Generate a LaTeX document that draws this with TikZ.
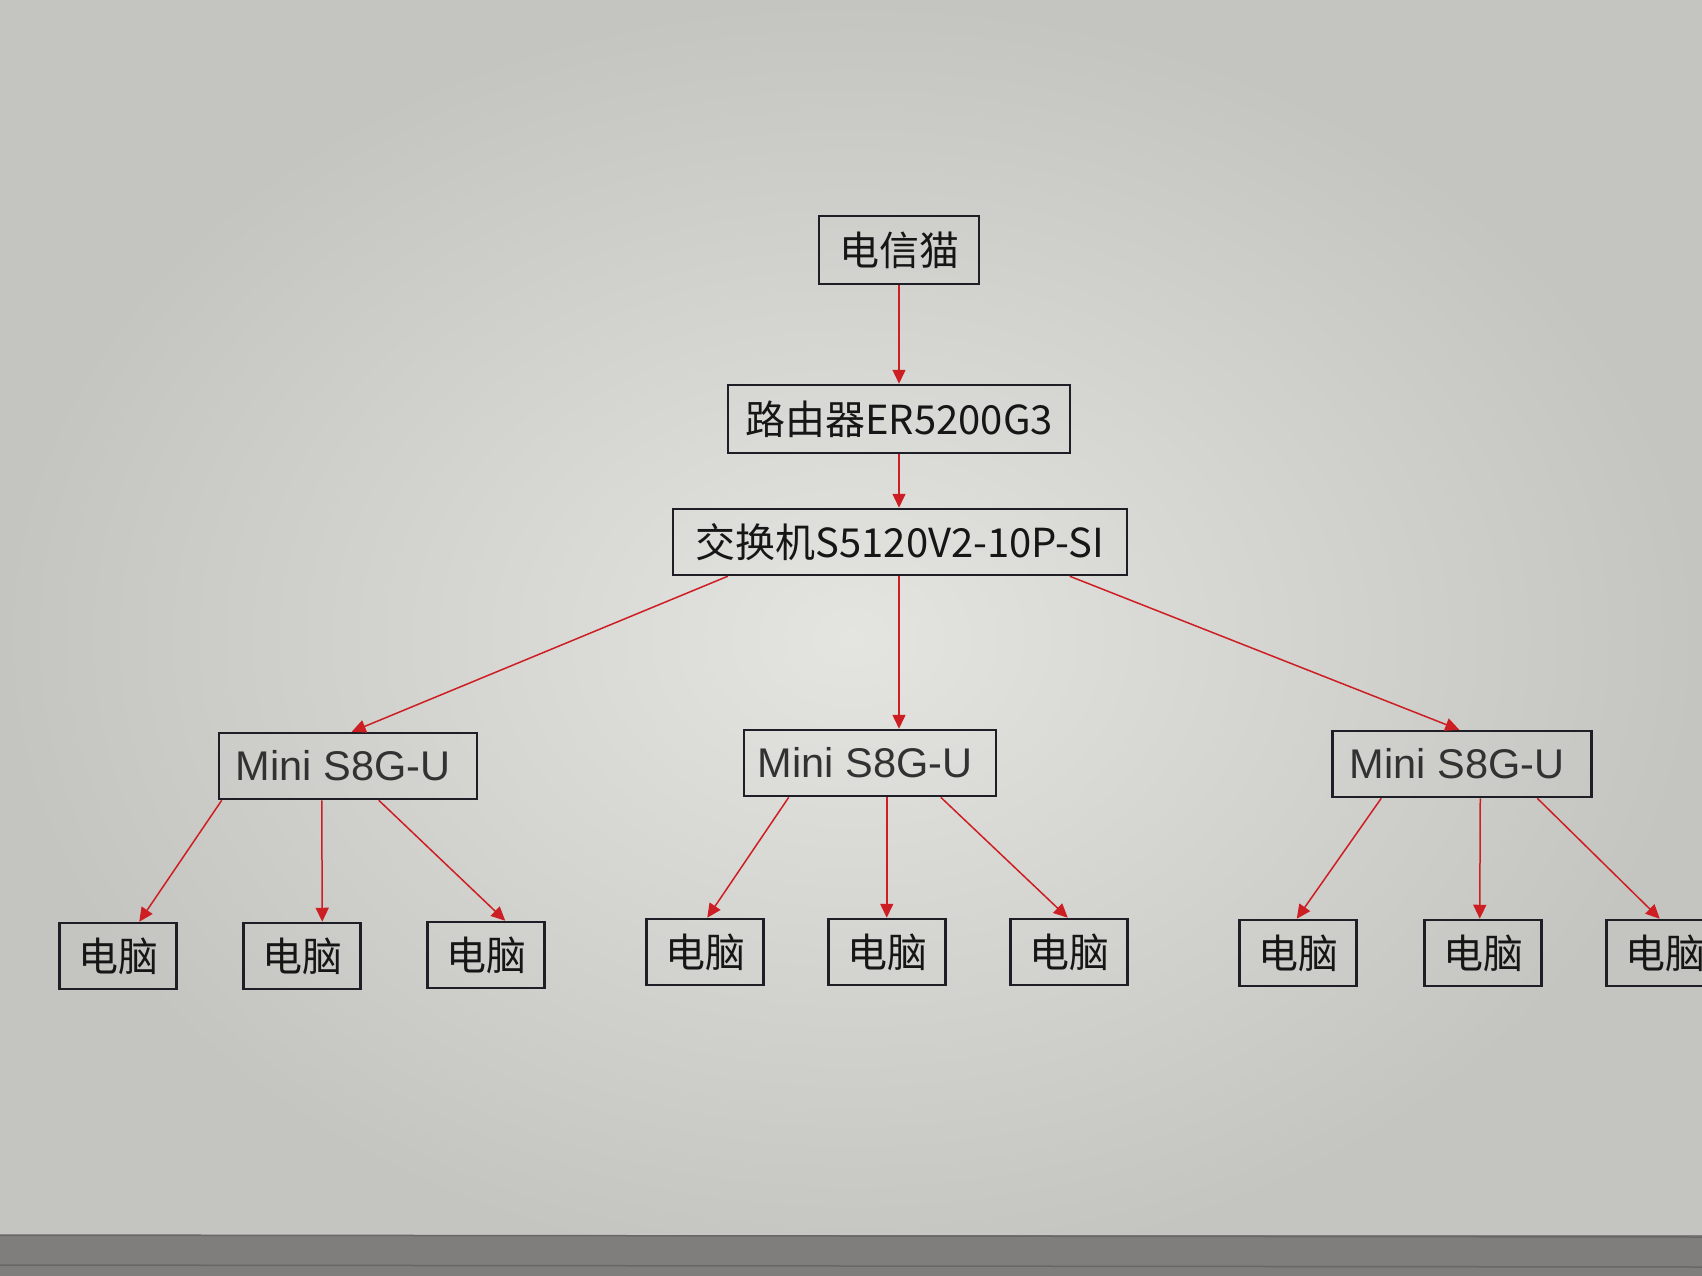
\documentclass[tikz,border=0pt]{standalone}
\usepackage{fontspec}
\setmainfont{Liberation Sans}
\newfontfamily\cjk{Noto Sans CJK SC}
\usetikzlibrary{arrows.meta}
\definecolor{bgin}{RGB}{228,228,225}
\definecolor{bgout}{RGB}{196,196,192}
\definecolor{linkred}{RGB}{205,30,35}
\definecolor{boxline}{RGB}{30,30,38}
\definecolor{txt}{RGB}{22,22,22}
\definecolor{minitxt}{RGB}{50,50,50}
\definecolor{barcol}{RGB}{128,126,125}
\definecolor{bardark}{RGB}{105,103,102}
\begin{document}
\begin{tikzpicture}[x=1pt,y=-1pt,
  box/.style={draw=boxline, line width=2.5pt, inner sep=0pt, text=txt,
    font=\cjk\fontsize{40}{40}\selectfont, anchor=center},
  minibox/.style={box, text=minitxt, font=\fontsize{41.5}{41.5}\selectfont,
    minimum width=255pt, minimum height=66pt},
  pcbox/.style={box, minimum width=117pt, minimum height=66pt},
  link/.style={draw=linkred, line width=1.5pt, -{Triangle[length=14pt,width=13pt]}}]
\useasboundingbox (0,0) rectangle (1702,1276);
\clip (0,0) rectangle (1702,1276);
% background (photographed screen)
\shade[inner color=bgin, outer color=bgout] (0,0) rectangle (1702,1276);
\fill[barcol] (0,1235) rectangle (1702,1276);
\draw[bardark, line width=1.5pt] (0,1235) -- (1702,1237);
\draw[bardark, line width=1.5pt] (0,1265) -- (1702,1267);
% nodes
\node[box, minimum width=160pt, minimum height=68pt] (modem) at (899,250) {电信猫};
\node[box, minimum width=342pt, minimum height=68pt] (router) at (899,419) {路由器ER5200G3};
\node[box, minimum width=454pt, minimum height=66pt] (switch) at (900,542) {交换机S5120V2-10P-SI};
\node[minibox, minimum width=258pt] (mL) at (348,766) {Mini S8G-U\kern10pt};
\node[minibox, minimum width=252pt] (mM) at (870,763) {Mini S8G-U\kern10pt};
\node[minibox, minimum width=259pt] (mR) at (1462,764) {Mini S8G-U\kern10pt};
\node[pcbox] (pc1) at (118,956) {电脑};
\node[pcbox] (pc2) at (302,956) {电脑};
\node[pcbox] (pc3) at (486,955) {电脑};
\node[pcbox] (pc4) at (705,952) {电脑};
\node[pcbox] (pc5) at (887,952) {电脑};
\node[pcbox] (pc6) at (1069,952) {电脑};
\node[pcbox] (pc7) at (1298,953) {电脑};
\node[pcbox] (pc8) at (1483,953) {电脑};
\node[pcbox] (pc9) at (1665,953) {电脑};
% connectors
\draw[link] (modem.south) -- (modem.south |- router.north);
\draw[link] (router.south) -- (router.south |- switch.north);
\draw[link] ([xshift=56pt]switch.south west) -- ([xshift=134pt]mL.north west);
\draw[link] (router.south |- switch.south) -- (router.south |- mM.north);
\draw[link] ([xshift=398pt]switch.south west) -- ([xshift=128pt]mR.north west);
\draw[link] ([xshift=4pt]mL.south west) -- ([xshift=81pt]pc1.north west);
\draw[link] ([xshift=104pt]mL.south west) -- ([xshift=80pt]pc2.north west);
\draw[link] ([xshift=161pt]mL.south west) -- ([xshift=79pt]pc3.north west);
\draw[link] ([xshift=46pt]mM.south west) -- ([xshift=62pt]pc4.north west);
\draw[link] ([xshift=144pt]mM.south west) -- ([xshift=59.5pt]pc5.north west);
\draw[link] ([xshift=198pt]mM.south west) -- ([xshift=58.5pt]pc6.north west);
\draw[link] ([xshift=50pt]mR.south west) -- ([xshift=58.5pt]pc7.north west);
\draw[link] ([xshift=149pt]mR.south west) -- ([xshift=56.5pt]pc8.north west);
\draw[link] ([xshift=206pt]mR.south west) -- ([xshift=54.5pt]pc9.north west);
\end{tikzpicture}
\end{document}
